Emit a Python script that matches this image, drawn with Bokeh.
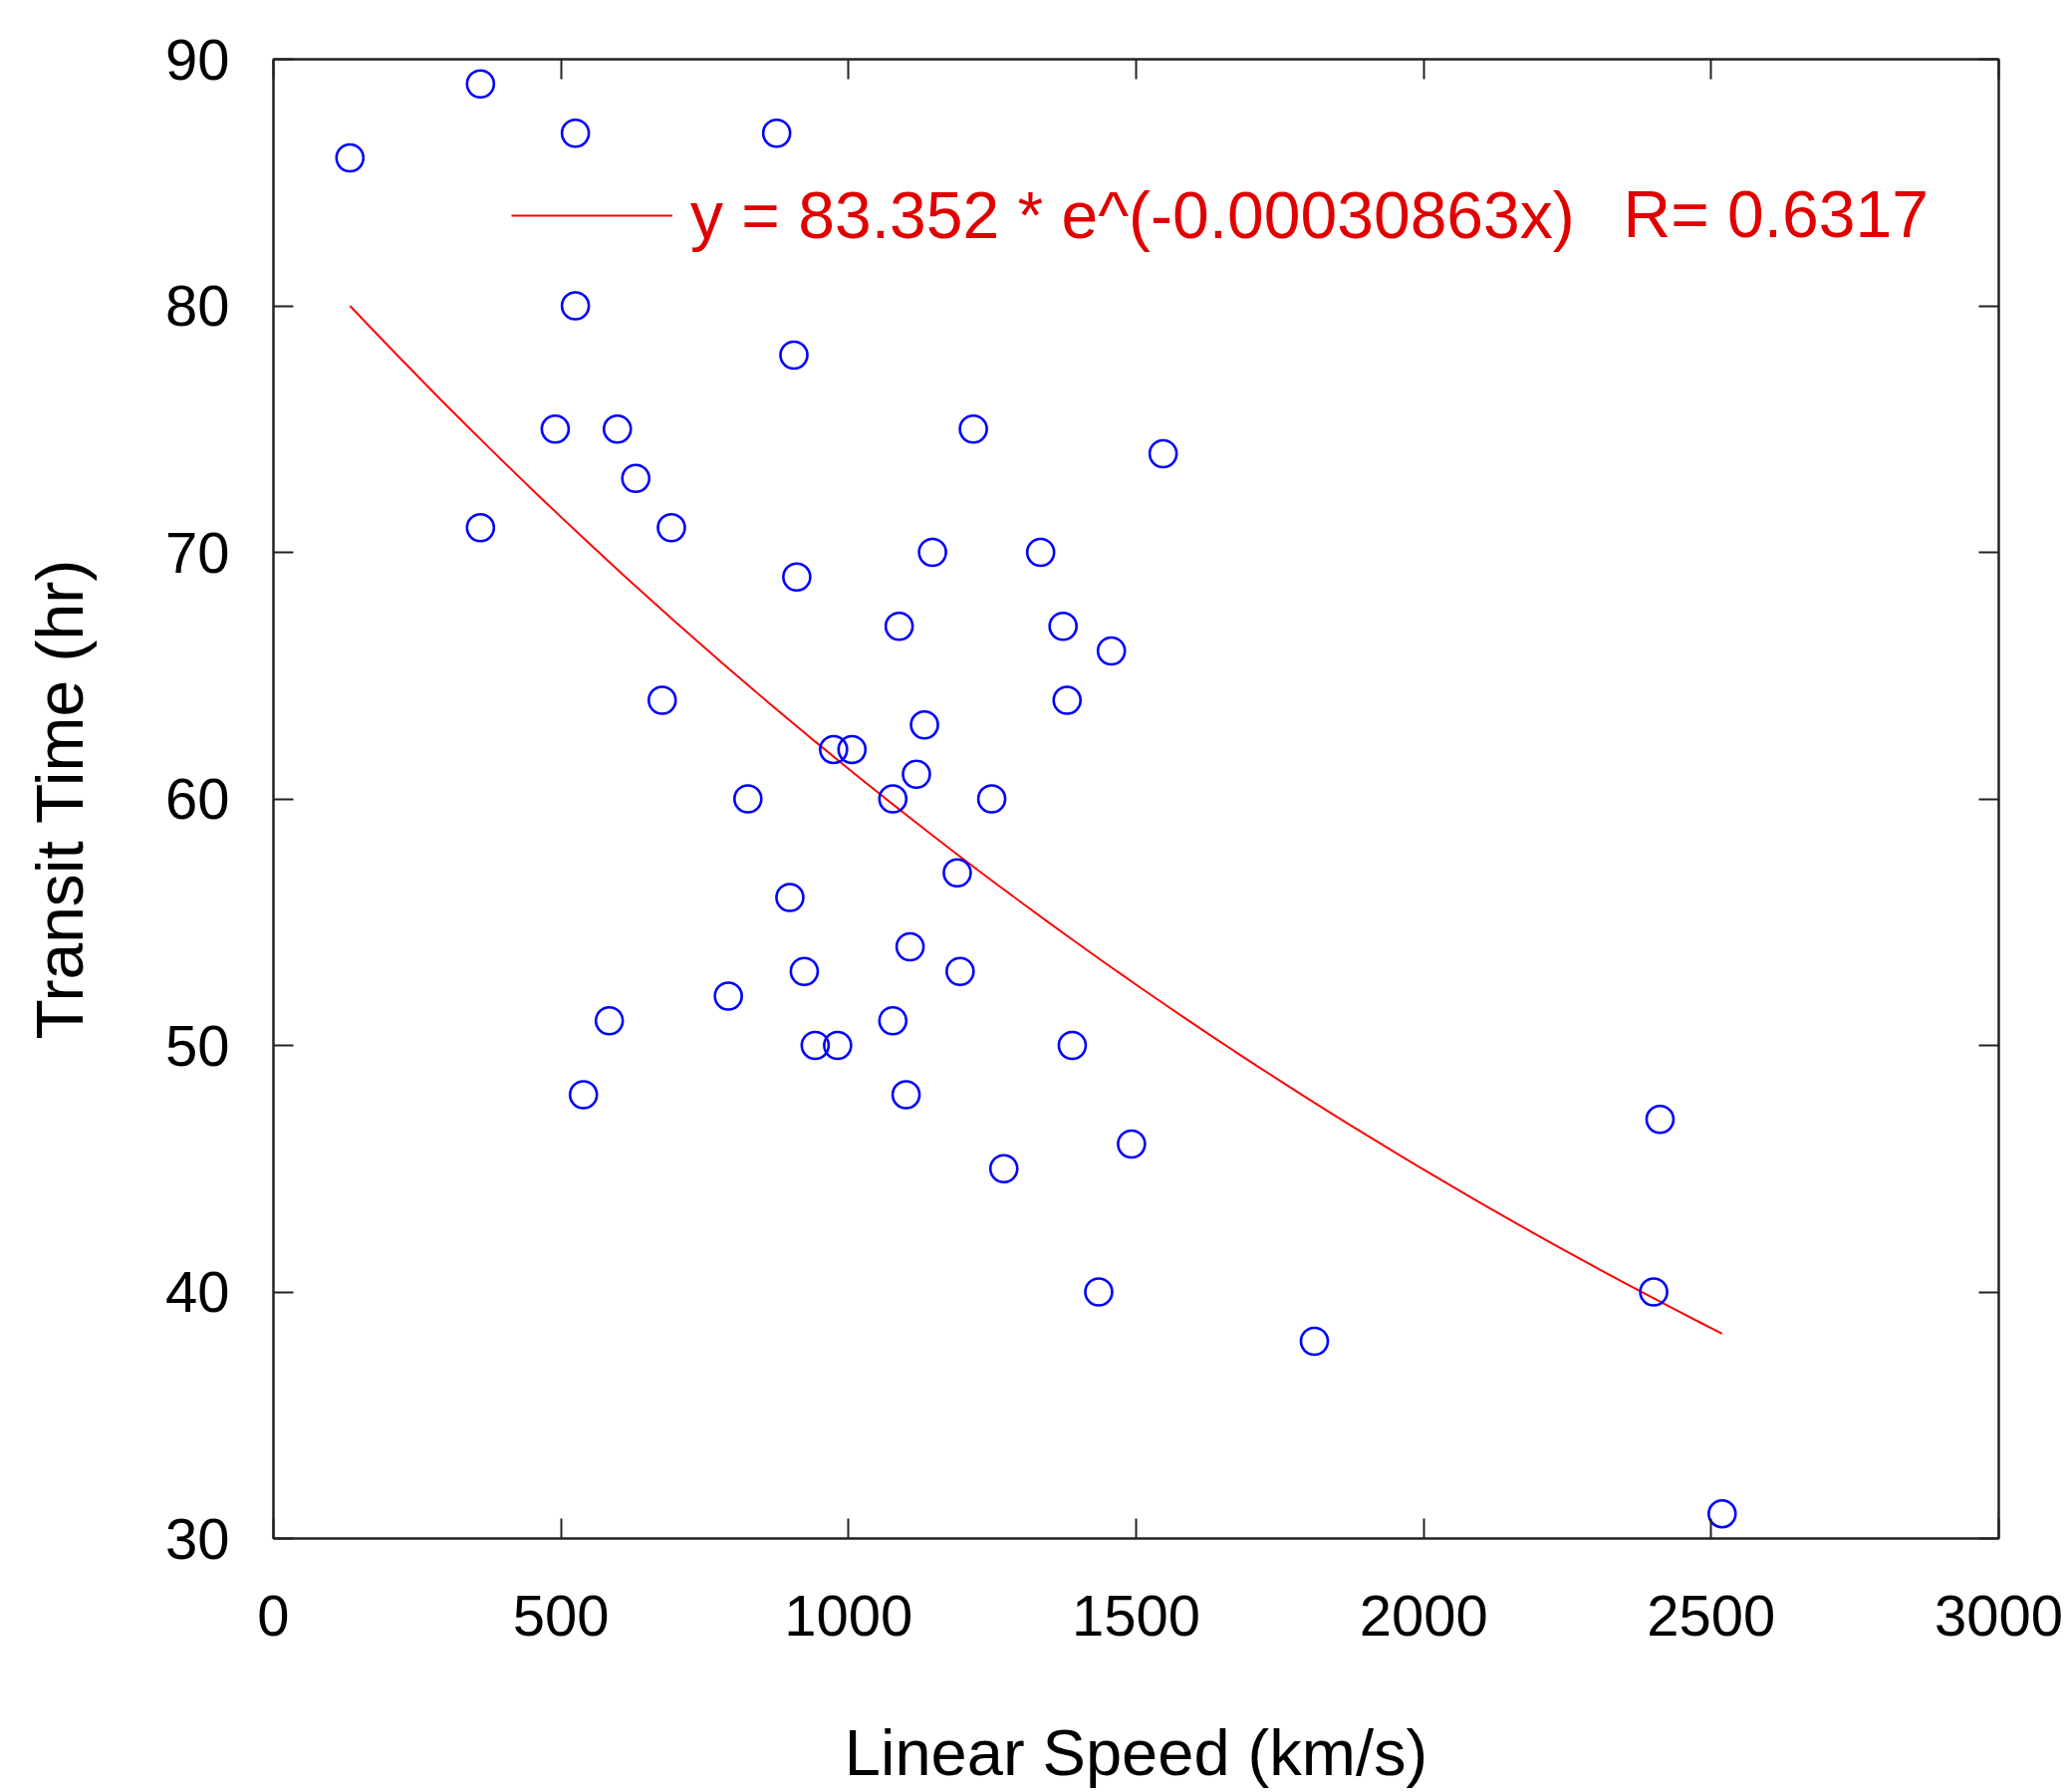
import numpy as np
from bokeh.plotting import figure
from bokeh.models import (Range1d, FixedTicker, LinearAxis, Legend, LegendItem,
                          Label, CustomJSTickFormatter)
from bokeh.embed import file_html
from bokeh.resources import INLINE

# ---- data ----
speed = [133, 360, 525, 875, 525, 905, 490, 598, 1217, 1547, 630, 360, 692,
         1146, 1334, 910, 1088, 1373, 1457, 676, 1380, 1132, 974, 1006, 1118,
         825, 1077, 1249, 1189, 898, 1107, 923, 1194, 791, 584, 1077, 942, 981,
         1389, 539, 1100, 2411, 1492, 1270, 1435, 2400, 1810, 2519]
transit = [86, 89, 87, 87, 80, 78, 75, 75, 75, 74, 73, 71, 71,
           70, 70, 69, 67, 67, 66, 64, 64, 63, 62, 62, 61,
           60, 60, 60, 57, 56, 54, 53, 53, 52, 51, 51, 50, 50,
           50, 48, 48, 47, 46, 45, 40, 40, 38, 31]

fit_a = 83.352
fit_b = -0.00030863
fit_r = 0.6317

x_ticks = [0, 500, 1000, 1500, 2000, 2500, 3000]
y_ticks = [30, 40, 50, 60, 70, 80, 90]

x_title = "Linear Speed (km/s)"
y_title = "Transit Time (hr)"
eq_text = "y = 83.352 * e^(-0.00030863x)"
r_text = "R= 0.6317"

FONT = "Liberation Sans"

p = figure(width=2075, height=1799, output_backend="svg", toolbar_location=None,
           x_range=Range1d(0, 3000), y_range=Range1d(30, 90),
           min_border_left=274, min_border_right=69, min_border_top=59,
           min_border_bottom=255, x_axis_location=None, y_axis_location=None)
p.grid.visible = False
p.outline_line_color = "#222222"
p.outline_line_width = 2
p.background_fill_color = "white"
p.border_fill_color = "white"

def make_axis(ticks, labels=True):
    ax = LinearAxis(ticker=FixedTicker(ticks=ticks))
    ax.major_tick_in = 20
    ax.major_tick_out = 0
    ax.minor_tick_line_color = None
    ax.major_tick_line_width = 2
    ax.major_tick_line_color = "#222222"
    ax.axis_line_color = "#222222"
    ax.axis_line_width = 2
    ax.major_label_text_font = FONT
    ax.major_label_text_font_size = "58px"
    ax.major_label_text_color = "black"
    ax.axis_label_text_font = FONT
    ax.axis_label_text_font_size = "66px"
    ax.axis_label_text_font_style = "normal"
    ax.axis_label_text_color = "black"
    if not labels:
        ax.formatter = CustomJSTickFormatter(code="return ''")
        ax.major_label_standoff = 0
    return ax

xb = make_axis(x_ticks)
xb.axis_label = x_title
xb.axis_label_text_font_size = "65px"
xb.axis_label_text_line_height = 0.8
xb.major_label_standoff = 57
xb.axis_label_standoff = 78
p.add_layout(xb, "below")

yl = make_axis(y_ticks)
yl.axis_label = y_title
yl.major_label_standoff = 44
yl.axis_label_standoff = 66
p.add_layout(yl, "left")

p.add_layout(make_axis(x_ticks, labels=False), "above")
p.add_layout(make_axis(y_ticks, labels=False), "right")

# fitted curve  y = a * exp(b x), drawn over the data's x extent
xf = np.linspace(min(speed), max(speed), 60)
yf = fit_a * np.exp(fit_b * xf)
fit_line = p.line(xf, yf, line_color="#ff0000", line_width=2)

# scatter
p.scatter(speed, transit, marker="circle", size=27, fill_color=None,
          line_color="#0000ff", line_width=2.6)

legend = Legend(items=[LegendItem(label=eq_text, renderers=[fit_line])],
                location=(239, 1290), orientation="vertical",
                glyph_width=162, glyph_height=60, label_height=60,
                label_standoff=18, padding=0, margin=0, spacing=0,
                border_line_color=None, background_fill_alpha=0,
                label_text_font=FONT, label_text_font_size="66px",
                label_text_color="#e00000")
p.add_layout(legend, "center")

r_label = Label(x=2347, y=83.7, text=r_text, text_font=FONT,
                text_font_size="66px", text_color="#e00000",
                text_align="left", text_baseline="middle")
p.add_layout(r_label)

open("out.html", "w").write(file_html(p, INLINE))
